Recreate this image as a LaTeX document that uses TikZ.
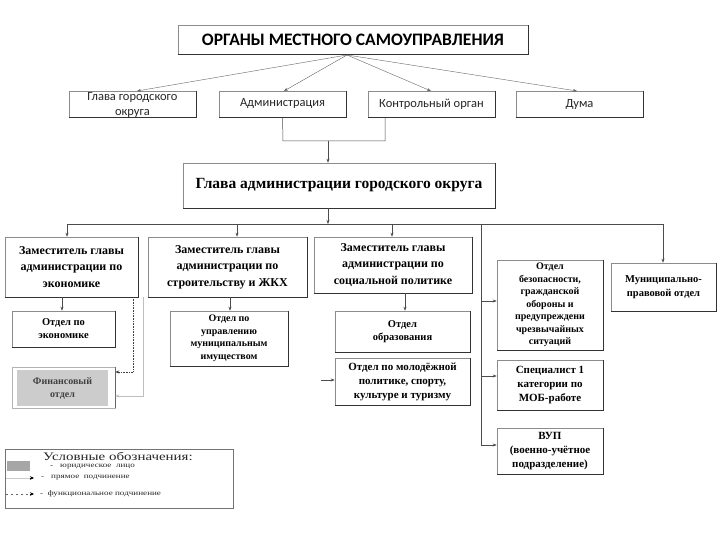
\documentclass[tikz,border=0pt]{standalone}
\usepackage{fontspec}
\setmainfont{Liberation Serif}
\newfontfamily\calfont{Carlito}
\newfontfamily\legfont[FakeStretch=1.3]{Liberation Serif}
\usetikzlibrary{arrows.meta,calc}
\begin{document}
\begin{tikzpicture}[x=1pt,y=-1pt,
  box/.style={draw=black!45, line width=0.6pt, inner sep=0pt, align=center, anchor=center},
  topbox/.style={box, font=\calfont\fontsize{12.5}{14.5}\selectfont, text=black!85},
  lowbox/.style={box, font=\bfseries\fontsize{11}{14}\selectfont},
  smallbox/.style={box, font=\bfseries\fontsize{10}{12.5}\selectfont},
  edge/.style={draw=black!80, line width=1pt},
  ln/.style={draw=black!70, line width=0.5pt},
  arr/.style={ln, -{Stealth[length=4pt,width=3pt]}},
  thinarr/.style={draw=black!60, line width=0.4pt, -{Stealth[length=4pt,width=3pt]}},
  dotarr/.style={draw=black!75, line width=0.6pt, densely dotted, -{Stealth[length=4pt,width=3pt]}},
  lightarr/.style={draw=black!25, line width=0.5pt, -{Stealth[length=4pt,width=3pt]}},
  legtext/.style={inner sep=0pt, anchor=west, font=\legfont\fontsize{7}{8}\selectfont, text=black!85}
]
\newcommand\edgeshadow[1]{\draw[edge] (#1.north east) -- (#1.south east) -- (#1.south west);}
\useasboundingbox (0,0) rectangle (720,540);
\fill[white] (0,0) rectangle (720,540);

% title
\node[box, minimum width=350, minimum height=29, font=\calfont\bfseries\fontsize{17.5}{19}\selectfont] (title) at (353,40) {ОРГАНЫ МЕСТНОГО САМОУПРАВЛЕНИЯ};
\edgeshadow{title}

% second row
\node[topbox, minimum width=127, minimum height=26] (glava) at (132.5,104) {};
\node[inner sep=0pt, align=center, font=\calfont\fontsize{12.5}{14.5}\selectfont, text=black!85] (glavat) at (132.5,105) {Глава городского\\округа};
\node[topbox, minimum width=127, minimum height=26] (adm) at (282.5,104) {Администрация};
\node[topbox, minimum width=127, minimum height=26] (kontr) at (431.5,104) {Контрольный орган};
\node[topbox, minimum width=127, minimum height=26] (duma) at (579.5,104) {Дума};
\foreach \n in {glava,adm,kontr,duma} {\edgeshadow{\n}}

\coordinate (hub) at (347,55);
\draw[thinarr] (hub) -- (137,91);
\draw[thinarr] (hub) -- (284,91);
\draw[thinarr] (hub) -- (431,91);
\draw[thinarr] (hub) -- (577,91);

% head of administration
\node[box, minimum width=312, minimum height=45, font=\bfseries\fontsize{15.5}{17}\selectfont] (head) at (339,185.5) {Глава администрации городского округа};
\edgeshadow{head}
\coordinate (j1) at (283,141);
\coordinate (j2) at (385,141);
\coordinate (j3) at (385,118);
\coordinate (j4) at (328,141);
\draw[ln] (adm.south) -- (j1) -- (j2) -- (j3);
\draw[arr] (j4) -- (j4 |- head.north);

% bus
\coordinate (b0) at (67,224);
\coordinate (b1) at (237,224);
\coordinate (b2) at (392,224);
\coordinate (b3) at (481,224);
\coordinate (b4) at (663,224);
\coordinate (bh) at (328,224);
\draw[ln] (b0) -- (b4);
\draw[arr] (head.south -| bh) -- (bh);

% deputies
\node[box, minimum width=133, minimum height=60, font=\bfseries\fontsize{12}{16.5}\selectfont] (z1) at (71.5,267) {Заместитель главы\\администрации по\\экономике};
\node[box, minimum width=159, minimum height=60, font=\bfseries\fontsize{12}{16.5}\selectfont] (z2) at (227.5,267) {Заместитель главы\\администрации по\\строительству и ЖКХ};
\node[box, minimum width=158, minimum height=56, font=\bfseries\fontsize{12}{16.5}\selectfont] (z3) at (393,265) {Заместитель главы\\администрации по\\социальной политике};
\foreach \n in {z1,z2,z3} {\edgeshadow{\n}}
\draw[arr] (b0) -- (b0 |- z1.north);
\draw[arr] (b1) -- (b1 |- z2.north);
\draw[arr] (b2) -- (b2 |- z3.north);

% right column
\node[smallbox, minimum width=106, minimum height=90] (bez) at (550,305) {Отдел\\безопасности,\\гражданской\\обороны и\\предупреждени\\чрезвычайных\\ситуаций};
\node[lowbox, minimum width=106, minimum height=50] (spec) at (550,385) {Специалист 1\\категории по\\МОБ-работе};
\node[lowbox, minimum width=106, minimum height=46] (vup) at (550,451) {ВУП\\(военно-учётное\\подразделение)};
\node[smallbox, font=\bfseries\fontsize{10.5}{14}\selectfont, minimum width=105, minimum height=48] (mun) at (663.5,287) {Муниципально-\\правовой отдел};
\foreach \n in {bez,spec,vup,mun} {\edgeshadow{\n}}
\coordinate (v1) at (481,301);
\coordinate (v2) at (481,376);
\coordinate (v3) at (481,445);
\draw[ln] (b3) -- (v3);
\draw[arr] (v1) -- (v1 -| bez.west);
\draw[arr] (v2) -- (v2 -| spec.west);
\draw[arr] (v3) -- (v3 -| vup.west);
\draw[arr] (b4) -- (b4 |- mun.north);

% departments
\node[smallbox, font=\bfseries\fontsize{10.5}{13}\selectfont, minimum width=103, minimum height=36] (oek) at (63.5,329) {Отдел по\\экономике};
\node[smallbox, minimum width=118, minimum height=55] (oum) at (229,338.5) {Отдел по\\управлению\\муниципальным\\имуществом};
\node[smallbox, font=\bfseries\fontsize{10.5}{13}\selectfont, minimum width=135, minimum height=41] (oobr) at (402.5,331.5) {Отдел\\образования};
\node[lowbox, minimum width=135, minimum height=47] (omol) at (402.5,381.5) {Отдел по молодёжной\\политике, спорту,\\культуре и туризму};
\foreach \n in {oek,oum,oobr,omol} {\edgeshadow{\n}}
\draw[arr] (z1.south -| 62,0) -- (62,0 |- oek.north);
\draw[arr] (z2.south -| 230,0) -- (230,0 |- oum.north);
\draw[arr] (z3.south -| 405,0) -- (405,0 |- oobr.north);
\coordinate (m0) at (321,380);
\draw[arr] (m0) -- (m0 -| omol.west);

% financial department
\node[draw=black!30, line width=0.5pt, minimum width=103, minimum height=41, inner sep=0pt] (finbox) at (63.5,387.5) {};
\draw[edge, draw=black!60] (finbox.north east) -- (finbox.south east);
\node[fill=black!20, minimum width=91, minimum height=36, inner sep=0pt, align=center, font=\bfseries\fontsize{10}{13}\selectfont, text=black!75] (fin) at (62.5,388) {Финансовый\\отдел};
\coordinate (d0) at (133,297);
\coordinate (d1) at (133,372);
\draw[dotarr] (d0) -- (d1) -- (d1 -| finbox.east);
\coordinate (s0) at (143,297);
\coordinate (s1) at (143,396);
\draw[lightarr] (s0) -- (s1) -- (s1 -| finbox.east);

% legend
\node[draw=black!55, line width=0.5pt, minimum width=228, minimum height=59, inner sep=0pt] (leg) at (119,478.5) {};
\node[inner sep=0pt, font=\legfont\fontsize{11.5}{12}\selectfont, text=black!85] (legt) at (118,456) {Условные обозначения:};
\node[fill=black!35, minimum width=23, minimum height=10, inner sep=0pt] (legr) at (18.5,466) {};
\node[legtext] (l1) at (50,467) {-\quad юридическое\ \ лицо};
\coordinate (la0) at (6,478);
\coordinate (la1) at (34,478);
\draw[draw=black!20, line width=0.8pt] (la0) -- (30,478);
\draw[-{Stealth[length=4pt,width=3.5pt]}, draw=black, line width=0.5pt] (30,478) -- (la1);
\node[legtext] (l2) at (41,478) {-\quad прямое\ \ подчинение};
\coordinate (lb0) at (6,494);
\coordinate (lb1) at (34,494);
\draw[draw=black!60, line width=0.5pt, dash pattern=on 2pt off 3pt] (lb0) -- (30,494);
\draw[-{Stealth[length=4pt,width=3.5pt]}, draw=black, line width=0.5pt] (30,494) -- (lb1);
\node[legtext] (l3) at (40,494) {-\ \ функциональное подчинение};
\end{tikzpicture}
\end{document}
